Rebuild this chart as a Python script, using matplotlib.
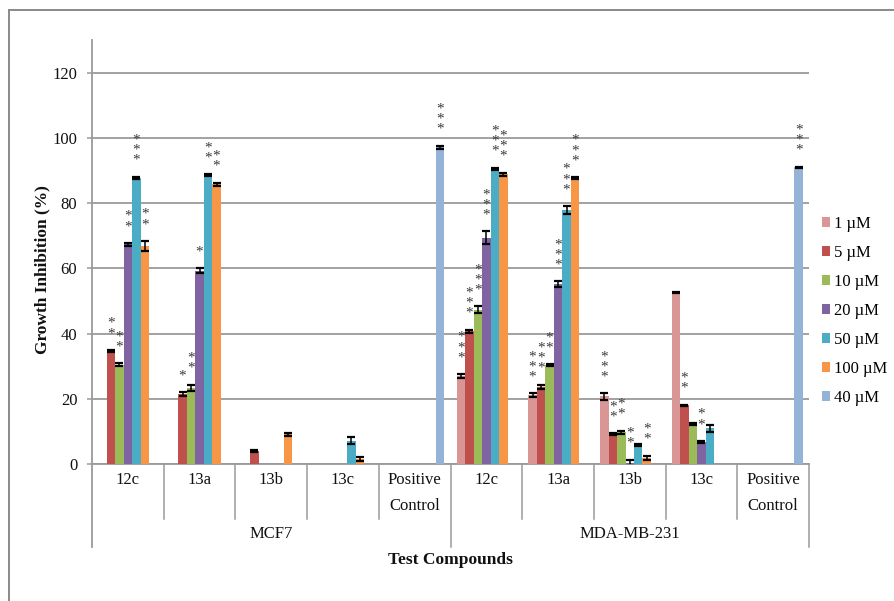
import numpy as np
import matplotlib.pyplot as plt
from matplotlib.lines import Line2D

plt.rcParams['font.family'] = ['Liberation Serif', 'DejaVu Serif']

# compounds, two cell lines
groups = ['12c', '13a', '13b', '13c', 'Positive\nControl',
          '12c', '13a', '13b', '13c', 'Positive\nControl']
cell_lines = ['MCF7', 'MDA-MB-231']

series = ['1 µM', '5 µM', '10 µM', '20 µM', '50 µM', '100 µM', '40 µM']
colors = ['#D99694', '#C0504D', '#9BBB59', '#8064A2', '#4BACC6', '#F79646', '#95B3D7']

nan = np.nan
# growth inhibition (%), one list per concentration across the 10 groups
inh_1 = [nan, nan, nan, nan, nan, 27.0, 21.1, 20.7, 52.6, nan]
inh_5 = [34.6, 21.5, 4.0, nan, nan, 40.7, 23.7, 9.1, 18.0, nan]
inh_10 = [30.5, 23.3, nan, nan, nan, 47.3, 30.3, 9.7, 12.3, nan]
inh_20 = [67.3, 59.3, nan, nan, nan, 69.3, 55.2, 0.4, 6.8, nan]
inh_50 = [87.7, 88.6, nan, 7.2, nan, 90.5, 77.8, 5.8, 10.9, nan]
inh_100 = [66.9, 85.8, 9.1, 1.5, nan, 88.8, 87.7, 1.9, nan, nan]
inh_40 = [nan, nan, nan, nan, 97.1, nan, nan, nan, nan, 91.0]

# standard errors
err_1 = [0, 0, 0, 0, 0, 0.6, 0.6, 1.0, 0.2, 0]
err_5 = [0.4, 0.5, 0.2, 0, 0, 0.5, 0.6, 0.3, 0.2, 0]
err_10 = [0.4, 1.0, 0, 0, 0, 1.0, 0.3, 0.5, 0.3, 0]
err_20 = [0.5, 0.8, 0, 0, 0, 2.0, 0.8, 0.9, 0.3, 0]
err_50 = [0.4, 0.3, 0, 1.0, 0, 0.4, 1.3, 0.3, 1.2, 0]
err_100 = [1.5, 0.5, 0.5, 0.5, 0, 0.5, 0.3, 0.7, 0, 0]
err_40 = [0, 0, 0, 0, 0.5, 0, 0, 0, 0, 0.2]

# number of significance stars above each bar
sig_1 = [0, 0, 0, 0, 0, 3, 3, 3, 0, 0]
sig_5 = [2, 1, 0, 0, 0, 3, 3, 2, 2, 0]
sig_10 = [2, 2, 0, 0, 0, 3, 2, 2, 0, 0]
sig_20 = [2, 1, 0, 0, 0, 3, 3, 2, 2, 0]
sig_50 = [3, 2, 0, 0, 0, 3, 3, 0, 0, 0]
sig_100 = [2, 2, 0, 0, 0, 3, 3, 2, 0, 0]
sig_40 = [0, 0, 0, 0, 3, 0, 0, 0, 0, 3]

values = [inh_1, inh_5, inh_10, inh_20, inh_50, inh_100, inh_40]
errors = [err_1, err_5, err_10, err_20, err_50, err_100, err_40]
stars = [sig_1, sig_5, sig_10, sig_20, sig_50, sig_100, sig_40]

W, H = 894, 601
fig = plt.figure(figsize=(W / 100, H / 100), dpi=100)
ax = fig.add_axes([92 / W, 137 / H, 717 / W, 424 / H])

grid_c = '#9a9a9a'
bw = 0.1185
n = len(groups)
for j in range(len(series)):
    v = np.array(values[j], dtype=float)
    e = np.array(errors[j], dtype=float)
    x = np.arange(n) + 0.5 + (j - 3) * bw
    m = ~np.isnan(v)
    ax.bar(x[m], v[m], width=bw, color=colors[j], label=series[j], zorder=3,
           yerr=e[m], error_kw=dict(ecolor='black', elinewidth=1.1,
                                    capsize=2.8, capthick=1.6, zorder=4))
    # stacked asterisks above the error bar
    for xi, vi, ei, s in zip(x, v, e, stars[j]):
        if s:
            ax.annotate('\n'.join('*' * s), xy=(xi, vi + ei), xytext=(0, 7),
                        textcoords='offset points', ha='center', va='bottom',
                        fontsize=11, color='#3a3a3a', linespacing=0.72,
                        zorder=5, annotation_clip=False)

ax.set_xlim(0, n)
ax.set_ylim(0, 130)
ax.set_yticks(range(0, 121, 20))
ax.set_xticks([])
ax.yaxis.grid(True, color=grid_c, lw=1.3)
ax.set_axisbelow(True)
for side in ['top', 'right', 'left']:
    ax.spines[side].set_visible(False)
ax.spines['bottom'].set_color(grid_c)
ax.spines['bottom'].set_linewidth(1.3)
ax.tick_params(axis='y', length=3.6, width=1.1, color=grid_c, pad=7,
               labelsize=12, labelcolor='#111111')

# hierarchical category axis drawn below the plot area
xt = ax.get_xaxis_transform()


def ay(py):
    return (464 - py) / 424


ax.plot([0, 0], [1, ay(547)], transform=xt, color=grid_c, lw=1.3, clip_on=False)
for i in range(1, n + 1):
    bottom = 547 if i in (5, 10) else 519
    ax.plot([i, i], [0, ay(bottom)], transform=xt, color=grid_c, lw=1.1,
            clip_on=False)
for i, g in enumerate(groups):
    ax.text(i + 0.5, ay(472), g, transform=xt, ha='center', va='top',
            fontsize=12, color='#111111', linespacing=1.85)
for k, c in enumerate(cell_lines):
    ax.text(2.5 + 5 * k, ay(534), c, transform=xt, ha='center', va='center',
            fontsize=12, color='#111111')
ax.text(5, ay(560), 'Test Compounds', transform=xt, ha='center',
        va='center', fontsize=12.5, fontweight='bold', color='#111111')

fig.text(42 / W, 1 - 270 / H, 'Growth Inhibition (%)', rotation=90,
         ha='center', va='center', fontsize=12.5, fontweight='bold',
         color='#111111')

fig.legend(loc='upper left', bbox_to_anchor=(822 / W, 1 - 216 / H),
           frameon=False, fontsize=12, borderpad=0, borderaxespad=0,
           handlelength=0.5, handleheight=0.5, handletextpad=0.25,
           labelspacing=0.78)

# outer frame (top and left edges visible)
fig.add_artist(Line2D([9 / W, 1.01], [1 - 10 / H, 1 - 10 / H], color='#8a8a8a',
                      lw=1.4, transform=fig.transFigure))
fig.add_artist(Line2D([9 / W, 9 / W], [-0.01, 1 - 10 / H], color='#8a8a8a',
                      lw=1.4, transform=fig.transFigure))

fig.savefig('out.png', dpi=100)
